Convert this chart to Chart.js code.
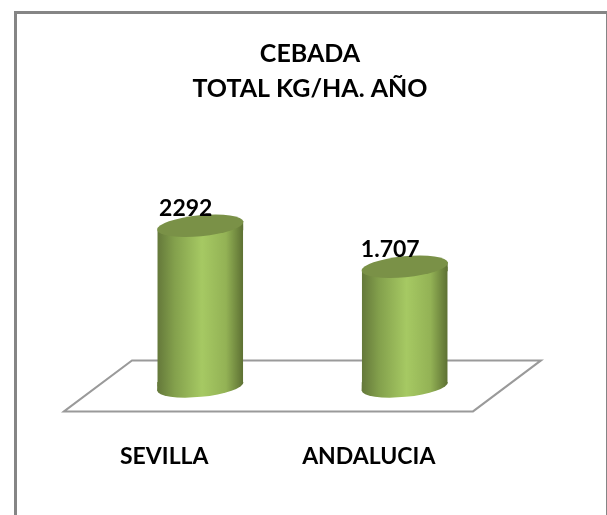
<!DOCTYPE html>
<html>
<head>
<meta charset="utf-8">
<style>
  html, body { margin: 0; padding: 0; background: #fff; overflow: hidden; }
  #frame { position: absolute; left: 14px; top: 11px; width: 593px; height: 504px;
           box-sizing: border-box; border-left: 3px solid #858585; border-top: 3px solid #858585; border-right: 1px solid #858585; }
  #wrap { position: absolute; left: 0; top: 0; width: 586px; height: 504px; }
</style>
</head>
<body>
<div id="frame"><div id="wrap"><canvas id="chart"></canvas></div></div>
<script src="https://cdn.jsdelivr.net/npm/chart.js@4"></script>
<script>
const categories = ['SEVILLA', 'ANDALUCIA'];
const values = [2292, 1707];
const valueLabels = ['2292', '1.707'];
const titleLines = ['CEBADA', 'TOTAL KG/HA. AÑO'];

const BAR_PCT = 0.42;
const TILT = 4.5;     // px the cylinder ends rise from centre to the right side
const CAP_RY = 10.5;
const ROT = -5.5 * Math.PI / 180;

function bodyGradient(ctx, left, right) {
    const g = ctx.createLinearGradient(left, 0, right, 0);
    g.addColorStop(0, '#64783a');
    g.addColorStop(0.2, '#83a04c');
    g.addColorStop(0.52, '#a6c963');
    g.addColorStop(0.8, '#93b255');
    g.addColorStop(1, '#5d7033');
    return g;
}

// title is centred on the canvas in the original, not on the padded plot
const titleShiftPlugin = {
    id: 'titleShift',
    afterLayout(chart) {
        chart.titleBlock.left += 7.5;
        chart.titleBlock.right += 7.5;
    }
};

// floor plate, sits behind the bars
const floorPlugin = {
    id: 'floor',
    beforeDatasetsDraw(chart) {
        const { ctx, chartArea: a } = chart;
        const shear = 34;
        ctx.save();
        ctx.strokeStyle = '#9a9a9a';
        ctx.lineWidth = 2;
        ctx.beginPath();
        ctx.moveTo(a.left - shear, a.bottom + 25);
        ctx.lineTo(a.left + shear, a.bottom - 26);
        ctx.lineTo(a.right + shear, a.bottom - 26);
        ctx.lineTo(a.right - shear, a.bottom + 25);
        ctx.closePath();
        ctx.stroke();
        ctx.restore();
    }
};

// turns the plain bars into cylinders
const cylinderPlugin = {
    id: 'cylinder',
    beforeDatasetDraw(chart, args) {
        const { ctx } = chart;
        ctx.save();
        ctx.beginPath();
        chart.getDatasetMeta(args.index).data.forEach(el => {
            const l = el.x - el.width / 2, r = el.x + el.width / 2;
            ctx.moveTo(l, el.y + TILT);
            ctx.lineTo(r, el.y - TILT);
            ctx.lineTo(r, el.base - TILT);
            ctx.lineTo(l, el.base + TILT);
            ctx.closePath();
        });
        ctx.clip();
    },
    afterDatasetDraw(chart, args) {
        const { ctx } = chart;
        ctx.restore();
        chart.getDatasetMeta(args.index).data.forEach(el => {
            const l = el.x - el.width / 2, r = el.x + el.width / 2, rx = el.width / 2;
            ctx.save();
            ctx.fillStyle = bodyGradient(ctx, l, r);
            // bottom cap, plus the wedge the square bar end leaves open at the left
            ctx.beginPath();
            ctx.ellipse(el.x, el.base, rx + 0.4, CAP_RY, ROT, 0, Math.PI);
            ctx.lineTo(l, el.base - TILT);
            ctx.lineTo(r, el.base - TILT);
            ctx.closePath();
            ctx.fill();
            // same wedge at the top right, goes under the top cap
            ctx.beginPath();
            ctx.moveTo(l, el.y + TILT);
            ctx.lineTo(r, el.y - TILT);
            ctx.lineTo(r, el.y + TILT);
            ctx.closePath();
            ctx.fill();
            ctx.fillStyle = '#7a9147';
            ctx.beginPath();
            ctx.ellipse(el.x, el.y, rx + 0.4, CAP_RY, ROT, 0, Math.PI * 2);
            ctx.fill();
            ctx.restore();
        });
    }
};

const valueLabelPlugin = {
    id: 'valueLabel',
    afterDatasetsDraw(chart) {
        const { ctx } = chart;
        ctx.save();
        ctx.font = 'bold 23px Lato, sans-serif';
        ctx.fillStyle = '#000';
        ctx.textAlign = 'center';
        ctx.textBaseline = 'middle';
        chart.getDatasetMeta(0).data.forEach((el, i) => {
            ctx.fillText(valueLabels[i], el.x - 14.5, el.y - 17);
        });
        ctx.restore();
    }
};

new Chart(document.getElementById('chart'), {
    type: 'bar',
    data: {
        labels: categories,
        datasets: [{
            data: values,
            barPercentage: BAR_PCT,
            categoryPercentage: 1,
            borderWidth: 0,
            backgroundColor(c) {
                const x = c.chart.scales.x;
                const half = (x.width / categories.length) * BAR_PCT / 2;
                const mid = x.getPixelForValue(c.dataIndex);
                // scriptable option also gets resolved once before layout is done
                if (!isFinite(mid) || !isFinite(half)) return '#93b255';
                return bodyGradient(c.chart.ctx, mid - half, mid + half);
            }
        }]
    },
    options: {
        responsive: true,
        maintainAspectRatio: false,
        animation: false,
        layout: { padding: { left: 81, right: 96, top: 22, bottom: 0 } },
        plugins: {
            legend: { display: false },
            tooltip: { enabled: false },
            title: {
                display: true,
                text: titleLines,
                color: '#000',
                font: { family: 'Lato, sans-serif', size: 25, weight: 'bold', lineHeight: 1.4 },
                padding: { top: 0, bottom: 0 }
            }
        },
        scales: {
            x: {
                grid: { display: false },
                border: { display: false },
                ticks: {
                    color: '#000',
                    padding: 48,
                    labelOffset: -36,
                    maxRotation: 0,
                    font: { family: 'Lato, sans-serif', size: 23, weight: 'bold' }
                }
            },
            y: { display: false, min: 0, max: 4000 }
        }
    },
    plugins: [titleShiftPlugin, floorPlugin, cylinderPlugin, valueLabelPlugin]
});
</script>
</body>
</html>
